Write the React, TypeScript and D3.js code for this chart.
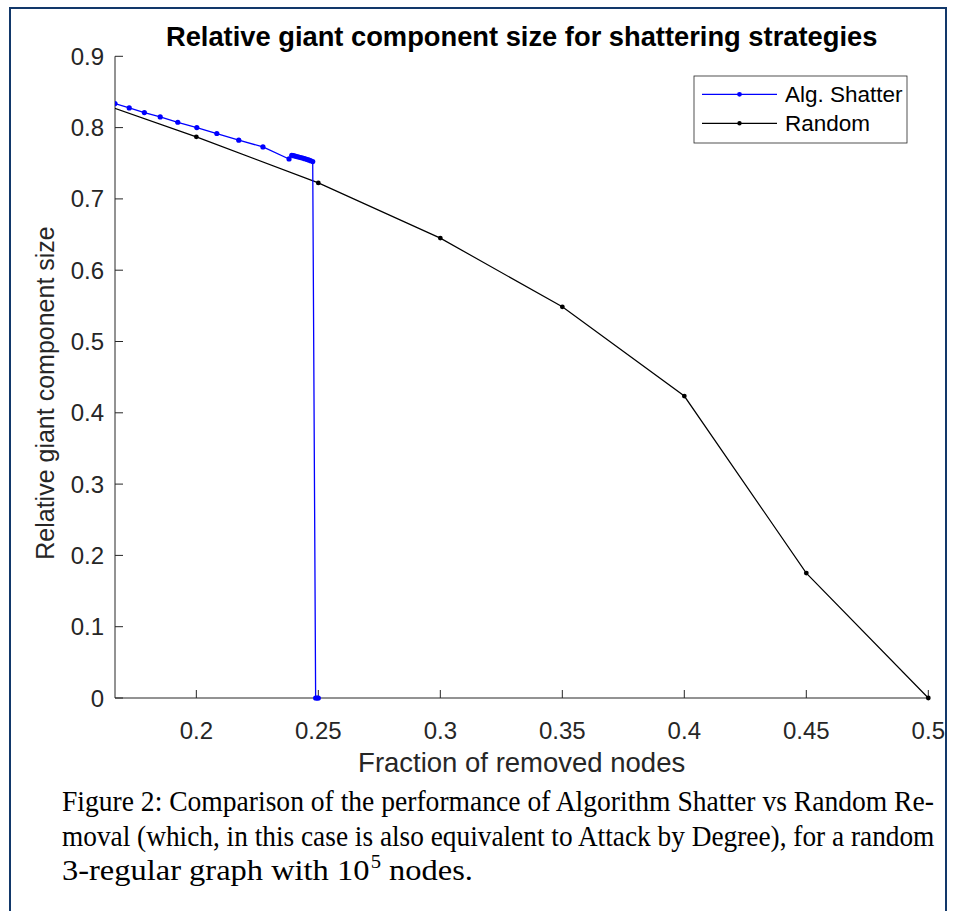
import React from 'react';
import * as d3 from 'd3';

const xTicks = [0.2, 0.25, 0.3, 0.35, 0.4, 0.45, 0.5];
const yTicks = [0, 0.1, 0.2, 0.3, 0.4, 0.5, 0.6, 0.7, 0.8, 0.9];

const shatterX = [0.16667, 0.1725, 0.1787, 0.1852, 0.1924, 0.2002, 0.2084, 0.2174, 0.2273, 0.2380,
  0.2391, 0.2398, 0.2405, 0.2412, 0.2420, 0.2428, 0.2436, 0.2444, 0.2452, 0.2460, 0.2468, 0.2477,
  0.2489, 0.2495, 0.2500];
const shatterY = [0.8337, 0.8276, 0.8211, 0.8150, 0.8075, 0.8001, 0.7917, 0.7823, 0.7729, 0.7560,
  0.7612, 0.7606, 0.7600, 0.7594, 0.7587, 0.7580, 0.7572, 0.7564, 0.7555, 0.7546, 0.7536, 0.7524,
  0, 0, 0];

const randomX = [0.15, 0.2, 0.25, 0.3, 0.35, 0.4, 0.45, 0.5];
const randomY = [0.847, 0.787, 0.7224, 0.645, 0.5486, 0.4235, 0.1752, 0];

const titleText = 'Relative giant component size for shattering strategies';
const xLabel = 'Fraction of removed nodes';
const yLabel = 'Relative giant component size';
const legendLabels = ['Alg. Shatter', 'Random'];
const captionLines = [
  'Figure 2: Comparison of the performance of Algorithm Shatter vs Random Re-',
  'moval (which, in this case is also equivalent to Attack by Degree), for a random',
];
const captionLast = ['3-regular graph with 10', '5', 'nodes.'];

const W = 956;
const H = 911;
const L = 115, R = 928.3, T = 56.3, B = 698;
const axisColor = '#262626';
const font = '"Liberation Sans", Arial, Helvetica, sans-serif';
const serif = '"Liberation Serif", "Times New Roman", serif';
const capSize = 30;
const capSup = 19;

function measure(text: string, size: number): number {
  try {
    const c = document.createElement('canvas');
    const ctx = c.getContext('2d');
    if (ctx) {
      ctx.font = `${size}px "Liberation Serif"`;
      return ctx.measureText(text).width;
    }
  } catch (e) { /* ignore */ }
  return text.length * size * 0.45;
}

export default function App() {
  const x = d3.scaleLinear().domain([1 / 6, 0.5]).range([L, R]);
  const y = d3.scaleLinear().domain([0, 0.9]).range([B, T]);
  const shatter = shatterX.map((v, i) => [v, shatterY[i]] as [number, number]);
  const random = randomX.map((v, i) => [v, randomY[i]] as [number, number]);
  const line = d3.line<[number, number]>().x(d => x(d[0])).y(d => y(d[1]));
  const inDomain = (d: [number, number]) => d[0] >= 1 / 6 - 1e-6 && d[0] <= 0.5 + 1e-6;
  const blue = '#0000ff';

  const lx0 = 702, lx1 = 777, lxm = 739.5, ly = [94.3, 123.3];

  const capWidth = 874;
  const sx = captionLines.map(c => capWidth / measure(c, capSize));
  const w0 = measure(captionLast[0], capSize);
  const w1 = measure(captionLast[1], capSup);
  const ws = measure(' ', capSize);
  const w2 = measure(captionLast[2], capSize);
  const lastScale = 411 / (w0 + 1 + w1 + ws + w2);

  return (
    <svg width={W} height={H} style={{ position: 'absolute', left: 0, top: 0, background: '#fff' }}>
      <defs>
        <clipPath id="plotClip">
          <rect x={L} y={T - 10} width={R - L + 10} height={B - T + 20} />
        </clipPath>
      </defs>
      <rect x={0} y={0} width={W} height={H} fill="#fff" />
      <rect x={10} y={8} width={936} height={940} fill="none" stroke="#12386a" strokeWidth={2} />

      {/* title */}
      <text x={(L + R) / 2} y={46} textAnchor="middle" fontFamily={font} fontWeight="bold" fontSize={27.3} fill="#000">
        {titleText}
      </text>

      {/* axes */}
      <g fontFamily={font} fill={axisColor}>
        <line x1={L} x2={R} y1={B} y2={B} stroke={axisColor} strokeWidth={1} />
        <line x1={L} x2={L} y1={T} y2={B} stroke={axisColor} strokeWidth={1} />
        {xTicks.map(t => (
          <g key={'x' + t}>
            <line x1={x(t)} x2={x(t)} y1={B} y2={B - 8} stroke={axisColor} strokeWidth={1} />
            <text x={x(t)} y={739} textAnchor="middle" fontSize={24}>{t}</text>
          </g>
        ))}
        {yTicks.map(t => (
          <g key={'y' + t}>
            <line x1={L} x2={L + 8} y1={y(t)} y2={y(t)} stroke={axisColor} strokeWidth={1} />
            <text x={104} y={y(t) + 8.5} textAnchor="end" fontSize={24}>{t}</text>
          </g>
        ))}
        <text x={(L + R) / 2} y={772} textAnchor="middle" fontSize={27.5}>{xLabel}</text>
        <text transform={`translate(54, 393) rotate(-90)`} textAnchor="middle" fontSize={25}>{yLabel}</text>
      </g>

      {/* series */}
      <g clipPath="url(#plotClip)">
        <path d={line(random) || ''} fill="none" stroke="#000" strokeWidth={1.2} />
        {random.filter(inDomain).map((d, i) => (
          <circle key={'r' + i} cx={x(d[0])} cy={y(d[1])} r={2.4} fill="#000" />
        ))}
        <path d={line(shatter) || ''} fill="none" stroke={blue} strokeWidth={1.3} />
        {shatter.map((d, i) => (
          <circle key={'s' + i} cx={x(d[0])} cy={y(d[1])} r={2.6} fill={blue} />
        ))}
      </g>

      {/* legend */}
      <g fontFamily={font}>
        <rect x={694} y={76} width={213} height={67} fill="#fff" stroke={axisColor} strokeWidth={0.8} />
        <line x1={lx0} x2={lx1} y1={ly[0]} y2={ly[0]} stroke={blue} strokeWidth={1.3} />
        <circle cx={lxm} cy={ly[0]} r={2.4} fill={blue} />
        <line x1={lx0} x2={lx1} y1={ly[1]} y2={ly[1]} stroke="#000" strokeWidth={1.2} />
        <circle cx={lxm} cy={ly[1]} r={2.2} fill="#000" />
        {legendLabels.map((lab, i) => (
          <text key={lab} x={785} y={ly[i] + 8} fontSize={22.5} fill="#000">{lab}</text>
        ))}
      </g>

      {/* caption */}
      <g fontFamily={serif} fontSize={capSize} fill="#000">
        {captionLines.map((c, i) => (
          <text key={i} transform={`translate(62, ${811 + i * 34.5}) scale(${sx[i]}, 1)`} x={0} y={0}>{c}</text>
        ))}
        <g transform={`translate(62, 880) scale(${lastScale}, 1)`}>
          <text x={0} y={0}>{captionLast[0]}</text>
          <text x={w0 + 1} y={-12} fontSize={capSup}>{captionLast[1]}</text>
          <text x={w0 + 1 + w1 + ws} y={0}>{captionLast[2]}</text>
        </g>
      </g>
    </svg>
  );
}
